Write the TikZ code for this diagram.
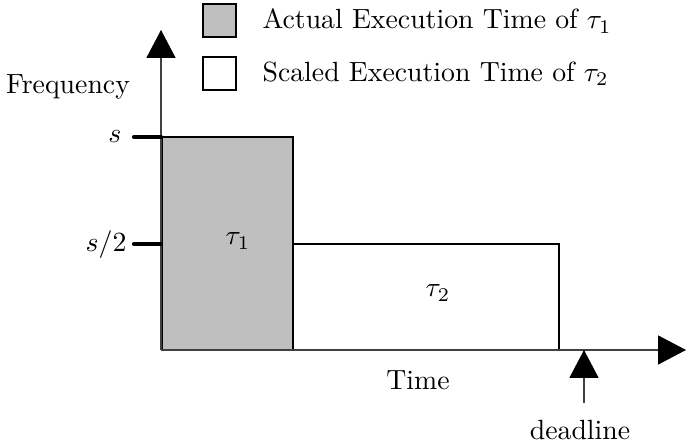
\documentclass[tikz,border=0pt]{standalone}
\usetikzlibrary{arrows.meta,fit}
\begin{document}
\begin{tikzpicture}[x=0.36pt,y=-0.36pt,
  axis/.style={line width=0.4pt,draw=black!75,-{Triangle[length=10pt,width=10.4pt,color=black]}},
  tick/.style={line width=1.5pt,line cap=round},
  task/.style={draw,line width=0.4pt,inner sep=0pt},
  legbox/.style={draw,line width=0.4pt,minimum size=11.9pt,inner sep=0pt},
  shade1/.style={fill=black!25},
  lbl/.style={inner sep=0pt}]
  \useasboundingbox (0,0) rectangle (686,446);
  % axes
  \coordinate (O) at (161,350);
  \coordinate (ytip) at (161,30);
  \coordinate (xtip) at (686,350);
  % task blocks
  \coordinate (t1a) at (162,137);
  \coordinate (t1b) at (293,350);
  \coordinate (t2a) at (293,244);
  \coordinate (t2b) at (559,350);
  \node[task,shade1,fit=(t1a)(t1b)] (task1) {};
  \node[task,fit=(t2a)(t2b)] (task2) {};
  \draw[axis] (O) -- (ytip);
  \draw[axis] (O) -- (xtip);
  % frequency ticks
  \coordinate (s1) at (134,137);
  \coordinate (s1e) at (161,137);
  \coordinate (s2) at (134,244);
  \coordinate (s2e) at (161,244);
  \draw[tick] (s1) -- (s1e);
  \draw[tick] (s2) -- (s2e);
  \node[lbl,anchor=east] (slab) at (122,137) {$s$};
  \node[lbl,anchor=east] (s2lab) at (127,245) {$s/2$};
  % labels
  \node[lbl] (freq) at (68,87) {Frequency};
  \node[lbl] (time) at (418,380) {Time};
  \node[lbl] (tau1) at (238,241) {$\tau_1$};
  \node[lbl] (tau2) at (438,293) {$\tau_2$};
  % deadline marker
  \coordinate (dl) at (584,350);
  \coordinate (dlb) at (584,403);
  \node[lbl] (dltext) at (580,430) {deadline};
  \draw[axis] (dlb) -- (dl);
  % legend
  \node[legbox,shade1] (leg1) at (219.5,20.5) {};
  \node[legbox] (leg2) at (219.5,73.5) {};
  \node[lbl,anchor=west] (leg1t) at (262,21) {Actual Execution Time of $\tau_1$};
  \node[lbl,anchor=west] (leg2t) at (262,74) {Scaled Execution Time of $\tau_2$};
\end{tikzpicture}
\end{document}
